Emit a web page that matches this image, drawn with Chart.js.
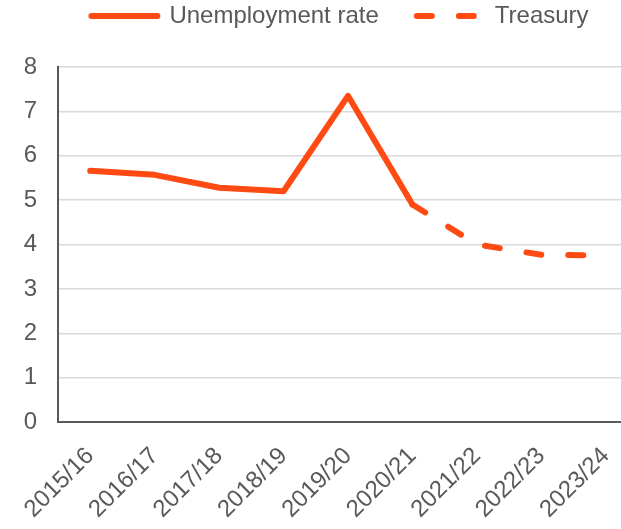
<!DOCTYPE html>
<html>
<head>
<meta charset="utf-8">
<title>Unemployment rate</title>
<script src="https://cdn.jsdelivr.net/npm/chart.js@4"></script>
<style>
    html, body { margin: 0; padding: 0; background: #ffffff; overflow: hidden; }
    #wrap { width: 660px; height: 529px; }
</style>
</head>
<body>
<div id="wrap"><canvas id="rateChart" width="660" height="529"></canvas></div>
<script>
// --- DATA ---
const years = ['2015/16', '2016/17', '2017/18', '2018/19', '2019/20', '2020/21', '2021/22', '2022/23', '2023/24'];
const unemploymentRate = [5.66, 5.57, 5.28, 5.2, 7.35, 4.9, null, null, null];
const treasuryForecast = [null, null, null, null, null, 4.9, 4.0, 3.77, 3.75];
const yTicks = [0, 1, 2, 3, 4, 5, 6, 7, 8];

// --- STYLE ---
const LINE_COLOR = '#FF4B13';
const TEXT_COLOR = '#595959';
const FONT = '"Liberation Sans", Arial, sans-serif';

Chart.defaults.font.family = FONT;
Chart.defaults.color = TEXT_COLOR;

// push the plot down a bit below the legend
const legendGap = {
    id: 'legendGap',
    beforeInit(chart) {
        const origFit = chart.legend.fit;
        chart.legend.fit = function fit() {
            origFit.bind(chart.legend)();
            this.height += 29;
        };
    }
};

const ctx = document.getElementById('rateChart').getContext('2d');
const rateChart = new Chart(ctx, {
    type: 'line',
    data: {
        labels: years,
        datasets: [{
            label: 'Unemployment rate',
            data: unemploymentRate,
            borderColor: LINE_COLOR,
            backgroundColor: LINE_COLOR,
            borderWidth: 6,
            borderCapStyle: 'round',
            borderJoinStyle: 'round',
            pointRadius: 0,
            pointStyle: 'line',
            tension: 0
        }, {
            label: 'Treasury',
            data: treasuryForecast,
            borderColor: LINE_COLOR,
            backgroundColor: LINE_COLOR,
            borderWidth: 6,
            borderDash: [15, 27],
            borderCapStyle: 'round',
            borderJoinStyle: 'round',
            pointRadius: 0,
            pointStyle: 'line',
            tension: 0
        }]
    },
    options: {
        responsive: false,
        animation: false,
        layout: { padding: { top: -34, left: 20, right: 0, bottom: 0 } },
        plugins: {
            legend: {
                display: true,
                position: 'top',
                labels: {
                    usePointStyle: true,
                    pointStyle: 'line',
                    pointStyleWidth: 66,
                    padding: 38,
                    color: TEXT_COLOR,
                    font: { size: 24, family: FONT },
                    // point style drops the dash, so put it back from the dataset
                    generateLabels(chart) {
                        const items = Chart.defaults.plugins.legend.labels.generateLabels(chart);
                        items.forEach(item => {
                            const ds = chart.data.datasets[item.datasetIndex];
                            item.lineDash = ds.borderDash || [];
                            item.lineCap = 'round';
                            item.lineWidth = 6;
                            item.strokeStyle = ds.borderColor;
                        });
                        return items;
                    }
                }
            },
            tooltip: { enabled: false }
        },
        scales: {
            x: {
                offset: true,
                grid: { display: false, drawTicks: false, offset: true },
                border: { display: true, color: TEXT_COLOR, width: 2 },
                ticks: {
                    autoSkip: false,
                    minRotation: 45,
                    maxRotation: 45,
                    padding: 20,
                    color: TEXT_COLOR,
                    font: { size: 24, family: FONT }
                },
                afterFit(scale) {
                    scale.height = 107;
                    scale.paddingLeft = 0;
                    scale.paddingRight = 22; // plot stops at 638, past the window edge
                }
            },
            y: {
                min: 0,
                max: 8,
                grid: { color: '#d9d9d9', lineWidth: 1.5, drawTicks: false },
                border: { display: true, color: TEXT_COLOR, width: 2 },
                ticks: {
                    stepSize: 1,
                    padding: 21,
                    color: TEXT_COLOR,
                    font: { size: 24, family: FONT },
                    callback: (v) => yTicks.includes(v) ? String(v) : ''
                },
                afterFit(scale) { scale.width = 38; }
            }
        }
    },
    plugins: [legendGap]
});
</script>
</body>
</html>
